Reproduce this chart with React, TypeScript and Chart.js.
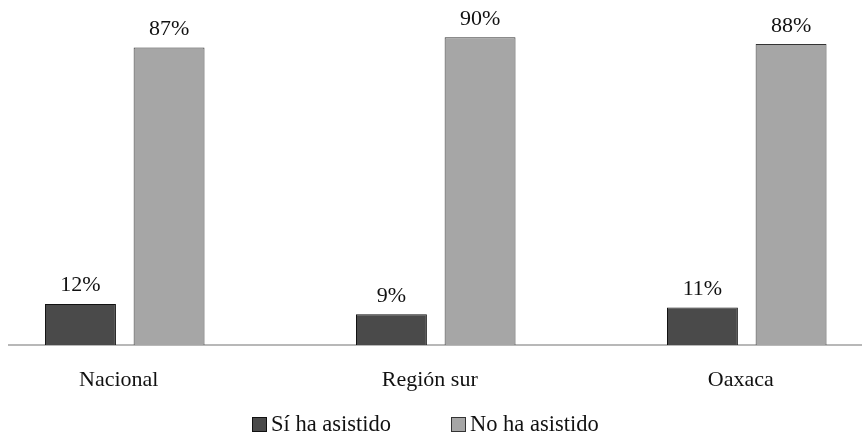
import React, { useEffect, useRef } from "react";
import { Chart, registerables } from "chart.js";

Chart.register(...registerables);

const categories = ["Nacional", "Región sur", "Oaxaca"];
const siValues = [12, 9, 11];
const noValues = [87, 90, 88];
const seriesNames = ["Sí ha asistido", "No ha asistido"];
const seriesColors = ["#4a4a4a", "#a6a6a6"];
const seriesBorders = ["#111111", "#333333"];

const FONT = '"Liberation Serif", "Times New Roman", serif';

export default function App() {
  const ref = useRef<HTMLCanvasElement | null>(null);

  useEffect(() => {
    if (!ref.current) return;

    const axisLine = {
      id: "axisLine",
      beforeDatasetsDraw(chart: any) {
        const ctx = chart.ctx;
        const y = chart.chartArea.bottom;
        ctx.save();
        ctx.strokeStyle = "#a0a0a0";
        ctx.lineWidth = 1.5;
        ctx.beginPath();
        ctx.moveTo(8, y);
        ctx.lineTo(chart.width, y);
        ctx.stroke();
        ctx.restore();
      },
    };

    const valueLabels = {
      id: "valueLabels",
      afterDatasetsDraw(chart: any) {
        const ctx = chart.ctx;
        ctx.save();
        ctx.font = `22px ${FONT}`;
        ctx.fillStyle = "#111";
        ctx.textAlign = "center";
        ctx.textBaseline = "alphabetic";
        chart.data.datasets.forEach((ds: any, di: number) => {
          const meta = chart.getDatasetMeta(di);
          meta.data.forEach((bar: any, i: number) => {
            ctx.fillText(`${ds.data[i]}%`, bar.x, bar.y - 12.5);
          });
        });
        ctx.restore();
      },
    };

    const customLegend = {
      id: "customLegend",
      afterDraw(chart: any) {
        const ctx = chart.ctx;
        const boxX = [252, 451];
        ctx.save();
        ctx.font = `22.5px ${FONT}`;
        ctx.textBaseline = "alphabetic";
        ctx.textAlign = "left";
        chart.data.datasets.forEach((ds: any, di: number) => {
          const x = boxX[di];
          ctx.fillStyle = ds.backgroundColor;
          ctx.fillRect(x + 0.5, 417.5, 14, 14);
          ctx.strokeStyle = ds.borderColor;
          ctx.lineWidth = 1;
          ctx.strokeRect(x + 0.5, 417.5, 14, 14);
          ctx.fillStyle = "#111";
          ctx.fillText(ds.label, x + 19, 431);
        });
        ctx.restore();
      },
    };

    const chart = new Chart(ref.current, {
      type: "bar",
      data: {
        labels: categories,
        datasets: [
          {
            label: seriesNames[0],
            data: siValues,
            backgroundColor: seriesColors[0],
            borderColor: seriesBorders[0],
            borderWidth: 1,
            categoryPercentage: 0.57,
            barPercentage: 0.8,
            clip: false,
          },
          {
            label: seriesNames[1],
            data: noValues,
            backgroundColor: seriesColors[1],
            borderColor: seriesBorders[1],
            borderWidth: 1,
            categoryPercentage: 0.57,
            barPercentage: 0.8,
            clip: false,
          },
        ],
      },
      options: {
        animation: false,
        responsive: true,
        maintainAspectRatio: false,
        layout: { padding: { left: 124.75, right: 115.25, top: 3, bottom: 0 } },
        plugins: {
          legend: { display: false },
          tooltip: { enabled: false },
        },
        scales: {
          x: {
            offset: false,
            grid: { display: false, drawTicks: false },
            border: { display: false },
            ticks: {
              font: { family: FONT, size: 22 },
              color: "#111",
              padding: 22,
              labelOffset: -6,
              maxRotation: 0,
              autoSkip: false,
            },
            afterFit: (s: any) => {
              s.height = 92;
            },
          },
          y: { display: false, min: 0, max: 100 },
        },
      },
      plugins: [axisLine, valueLabels, customLegend],
    });

    return () => chart.destroy();
  }, []);

  return (
    <div style={{ position: "absolute", left: 0, top: 0, width: 862, height: 437 }}>
      <canvas ref={ref} />
    </div>
  );
}
